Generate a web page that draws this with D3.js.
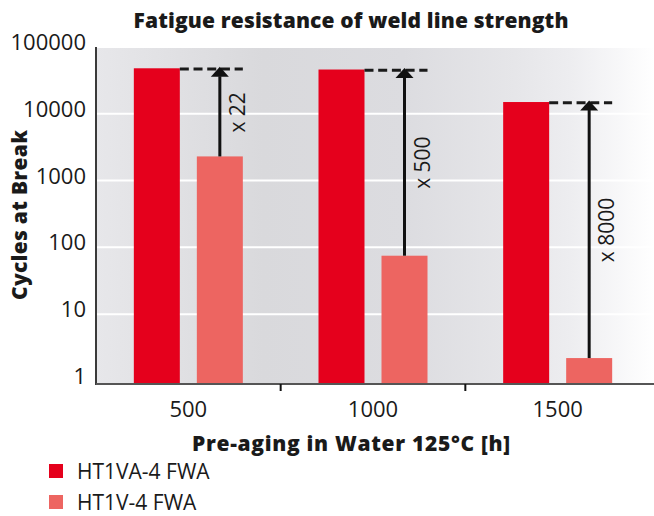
<!DOCTYPE html>
<html>
<head>
<meta charset="utf-8">
<script src="https://cdn.jsdelivr.net/npm/d3@7"></script>
<style>
  html, body { margin: 0; padding: 0; background: #fff; }
  svg { display: block; }
  text { font-family: "Open Sans", "DejaVu Sans", sans-serif; fill: #1a1a1a; }
</style>
</head>
<body>
<svg id="chart" width="654" height="516"></svg>
<script>
// ---- data ----
const categories = ["500", "1000", "1500"];
const seriesNames = ["HT1VA-4 FWA", "HT1V-4 FWA"];
const seriesA = [48000, 46000, 15000];   // HT1VA-4 FWA
const seriesB = [2300, 75, 2.2];         // HT1V-4 FWA
const factorLabels = ["x 22", "x 500", "x 8000"];
const yTicks = [1, 10, 100, 1000, 10000, 100000];
const colors = ["#e5001c", "#ed6561"];

const title = "Fatigue resistance of weld line strength";
const xTitle = "Pre-aging in Water 125°C [h]";
const yTitle = "Cycles at Break";

// ---- layout ----
const W = 654, H = 516;
const plotL = 96, plotR = 654, plotT = 47, plotB = 384;

const svg = d3.select("#chart");

const x = d3.scaleBand().domain(categories).range([plotL, 650]).paddingInner(0).paddingOuter(0);
const x1 = d3.scaleBand().domain(seriesNames).range([-54.5, 54.5]).paddingInner(0.27);
const y = d3.scaleLog().domain([0.9, 100000]).range([plotB, plotT]);

// background gradient
const defs = svg.append("defs");
const grad = defs.append("linearGradient").attr("id", "bg").attr("x1", "0%").attr("x2", "100%").attr("y1", "0%").attr("y2", "0%");
[[0, "#e7e7ea"], [0.3, "#d9d9dc"], [0.55, "#dcdce0"], [0.75, "#e6e6e9"], [0.85, "#ededf0"], [1, "#ffffff"]]
  .forEach(([o, c]) => grad.append("stop").attr("offset", o).attr("stop-color", c));

svg.append("rect").attr("x", plotL).attr("y", plotT).attr("width", plotR - plotL).attr("height", plotB - plotT).attr("fill", "url(#bg)");

// gridlines
svg.append("g").selectAll("line").data(yTicks.filter(d => d > 1)).join("line")
  .attr("x1", plotL).attr("x2", plotR)
  .attr("y1", d => y(d)).attr("y2", d => y(d))
  .attr("stroke", "#ffffff").attr("stroke-width", 2);

// bars
const cx = c => x(c) + x.bandwidth() / 2;
const rows = categories.map((c, i) => ({ c, i, vals: [seriesA[i], seriesB[i]] }));
const g = svg.append("g").selectAll("g").data(rows).join("g");
g.selectAll("rect").data(r => r.vals.map((v, k) => ({ c: r.c, v, k }))).join("rect")
  .attr("x", d => cx(d.c) + x1(seriesNames[d.k]))
  .attr("width", x1.bandwidth())
  .attr("y", d => y(d.v))
  .attr("height", d => plotB - y(d.v))
  .attr("fill", d => colors[d.k]);

// axes
const yAxis = svg.append("g").attr("transform", `translate(${plotL},0)`)
  .call(d3.axisLeft(y).tickValues(yTicks).tickFormat(d3.format("d")).tickSize(0).tickPadding(10));
yAxis.select(".domain").remove();
yAxis.selectAll("text").attr("dy", 0).attr("y", 2.5)
  .style("font-size", "22px").style("font-family", "'Open Sans', sans-serif").attr("fill", "#1a1a1a");

const xAxis = svg.append("g").attr("transform", `translate(0,${plotB})`)
  .call(d3.axisBottom(x).tickSize(0));
xAxis.select(".domain").remove();
xAxis.selectAll("text").attr("dy", 0).attr("y", 32.7)
  .style("font-size", "22px").style("font-family", "'Open Sans', sans-serif").attr("fill", "#1a1a1a");

// axis lines
svg.append("line").attr("x1", plotL).attr("x2", plotL).attr("y1", plotT).attr("y2", plotB + 1)
  .attr("stroke", "#3a3a3a").attr("stroke-width", 2);
svg.append("line").attr("x1", plotL).attr("x2", plotR).attr("y1", plotB).attr("y2", plotB)
  .attr("stroke", "#555", ).attr("stroke-width", 2);
// category separator ticks
svg.append("g").selectAll("line").data(categories.slice(0, -1)).join("line")
  .attr("x1", d => x(d) + x.step()).attr("x2", d => x(d) + x.step())
  .attr("y1", plotB).attr("y2", plotB + 7)
  .attr("stroke", "#111").attr("stroke-width", 2);

// annotations
const ann = svg.append("g");
rows.forEach(r => {
  const aRight = cx(r.c) + x1(seriesNames[0]) + x1.bandwidth();
  const bLeft = cx(r.c) + x1(seriesNames[1]);
  const bRight = bLeft + x1.bandwidth();
  const ax = bLeft + x1.bandwidth() / 2;
  const yTop = y(r.vals[0]);
  const yBot = y(r.vals[1]);
  ann.append("line").attr("x1", aRight).attr("x2", bRight).attr("y1", yTop + 0.7).attr("y2", yTop + 0.7)
    .attr("stroke", "#1a1a1a").attr("stroke-width", 3).attr("stroke-dasharray", "9,4.7");
  ann.append("line").attr("x1", ax).attr("x2", ax).attr("y1", yBot).attr("y2", yTop + 8)
    .attr("stroke", "#111").attr("stroke-width", 3);
  ann.append("path").attr("d", `M${ax},${yTop - 1.6}L${ax + 9},${yTop + 8.4}L${ax - 9},${yTop + 8.4}Z`)
    .attr("fill", "#111");
  ann.append("text").attr("transform", `translate(${bRight + 2},${(yTop + yBot) / 2}) rotate(-90)`)
    .attr("text-anchor", "middle").style("font-size", "21px").text(factorLabels[r.i]);
});

// titles
svg.append("text").attr("x", 351).attr("y", 28).attr("text-anchor", "middle")
  .attr("textLength", 435).attr("lengthAdjust", "spacing")
  .style("font-size", "21px").style("font-weight", 800).attr("fill", "#111").text(title);
svg.append("text").attr("x", 351).attr("y", 451).attr("text-anchor", "middle")
  .attr("textLength", 318).attr("lengthAdjust", "spacing")
  .style("font-size", "21px").style("font-weight", 800).attr("fill", "#111").text(xTitle);
svg.append("text").attr("transform", "translate(27,215) rotate(-90)").attr("text-anchor", "middle")
  .attr("textLength", 170).attr("lengthAdjust", "spacing")
  .style("font-size", "21px").style("font-weight", 800).attr("fill", "#111").text(yTitle);

// legend
const leg = svg.append("g").selectAll("g").data(seriesNames).join("g")
  .attr("transform", (d, i) => `translate(49,${464 + i * 31})`);
leg.append("rect").attr("width", 14).attr("height", 14).attr("fill", (d, i) => colors[i]);
leg.append("text").attr("x", 28).attr("y", 14.5).style("font-size", "21px").text(d => d);
</script>
</body>
</html>
